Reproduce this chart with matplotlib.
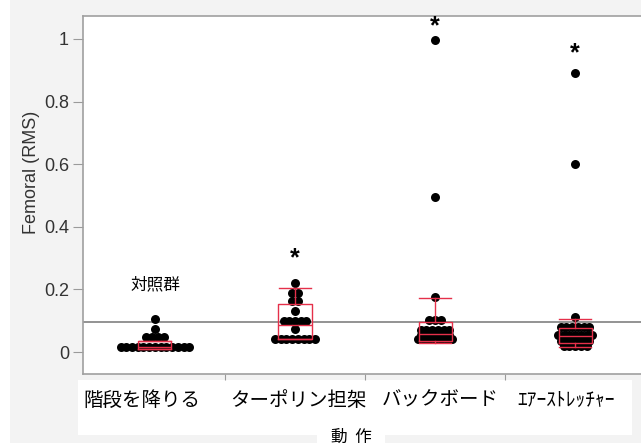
import numpy as np
import matplotlib.pyplot as plt
from matplotlib.patches import Rectangle

plt.rcParams['font.family'] = ['Liberation Sans', 'Noto Sans CJK JP', 'DejaVu Sans']

# 動作ごとの Femoral RMS (各点が1試行)
categories = ['階段を降りる', 'ターポリン担架', 'バックボード', 'ｴｱｰｽﾄﾚｯﾁｬｰ']
stairs = [0.105, 0.073] + [0.048] * 4 + [0.016] * 13
tarp = [0.22, 0.19, 0.19, 0.163, 0.163, 0.131] + [0.099] * 5 + [0.073] + [0.042] * 8
backboard = [0.995, 0.495, 0.175] + [0.102] * 3 + [0.072] * 6 + [0.056] * 6 + [0.041] * 7
air = [0.89, 0.60, 0.111] + [0.08] * 6 + [0.055] * 7 + [0.035] * 6 + [0.018] * 5
series = [stairs, tarp, backboard, air]

# 箱ひげ図の統計量 (q1, 中央値, q3, 下ひげ, 上ひげ)
q1 = [0.009, 0.041, 0.035, 0.030]
med = [0.017, 0.086, 0.058, 0.050]
q3 = [0.035, 0.155, 0.096, 0.077]
whislo = [0.009, 0.041, 0.029, 0.017]
whishi = [0.035, 0.204, 0.172, 0.105]

ref_level = 0.095
stars = [None, 0.30, 1.04, 0.955]
yticks = [0, 0.2, 0.4, 0.6, 0.8, 1.0]
ytick_labels = ['0', '0.2', '0.4', '0.6', '0.8', '1']

W, H = 641, 447
RED = '#e5304a'


def fx(x):
    return x / W


def fy(y):
    return 1 - y / H


def swarm(values, step=0.041):
    # 同じ値の点を横一列に並べる
    xs, ys = [], []
    vals, counts = np.unique(values, return_counts=True)
    for v, n in zip(vals, counts):
        off = (np.arange(n) - (n - 1) / 2) * step
        xs.extend(off)
        ys.extend([v] * n)
    return np.array(xs), np.array(ys)


fig = plt.figure(figsize=(W / 100, H / 100), dpi=100, facecolor='#f3f3f3')

# 背景の白い帯
for (x0, y0, x1, y1) in [(0, 0, 10, H), (0, 443, W, H), (78, 380, 632, 435), (317, 428, 385, 443)]:
    fig.add_artist(Rectangle((fx(x0), fy(y1)), (x1 - x0) / W, (y1 - y0) / H,
                             transform=fig.transFigure, color='white', zorder=-1, lw=0))

ax = fig.add_axes([fx(83), fy(374), 1 - fx(83), (374 - 16) / H])
ax.set_xlim(-0.514, 3.471)
ax.set_ylim(-0.07, 1.073)

ax.axhline(ref_level, color='#8a8a8a', lw=1.3, zorder=1)

for i, vals in enumerate(series):
    xs, ys = swarm(vals)
    ax.scatter(xs + i, ys, s=42, color='black', lw=0, zorder=2)

stats = [dict(q1=a, med=b, q3=c, whislo=d, whishi=e)
         for a, b, c, d, e in zip(q1, med, q3, whislo, whishi)]
line = dict(color=RED, lw=1)
ax.bxp(stats, positions=range(4), widths=0.236, capwidths=0.23, showfliers=False,
       boxprops=line, whiskerprops=line, capprops=line, medianprops=line,
       manage_ticks=False, zorder=3)

for i, s in enumerate(stars):
    if s is not None:
        ax.text(i, s, '*', ha='center', va='center', fontsize=18, fontweight='bold')
ax.text(0, 0.215, '対照群', ha='center', va='center', fontsize=12,
        family=['Noto Sans CJK JP'])

ax.set_yticks(yticks)
ax.set_yticklabels(ytick_labels)
ax.set_xticks([0.5, 1.5, 2.5])
ax.set_xticklabels([])
ax.tick_params(axis='y', length=7, color='#9a9a9a', labelsize=13, labelcolor='#333333', pad=3)
ax.tick_params(axis='x', length=4, color='#9a9a9a')
for side in ['left', 'top', 'bottom']:
    ax.spines[side].set_color('#a0a0a0')
    ax.spines[side].set_linewidth(1.2)
ax.spines['right'].set_visible(False)

fig.text(fx(31), fy(172), 'Femoral (RMS)', rotation=90, ha='center', va='center',
         fontsize=13, color='#333333')

label_x = [142, 298, 440, 566]
for x, name in zip(label_x, categories):
    fig.text(fx(x), fy(400), name, ha='center', va='center', fontsize=14,
             family=['Noto Sans CJK JP'])
fig.text(fx(351), fy(437), '動  作', ha='center', va='center', fontsize=12,
         family=['Noto Sans CJK JP'])

fig.savefig('out.png', dpi=100, facecolor=fig.get_facecolor())
